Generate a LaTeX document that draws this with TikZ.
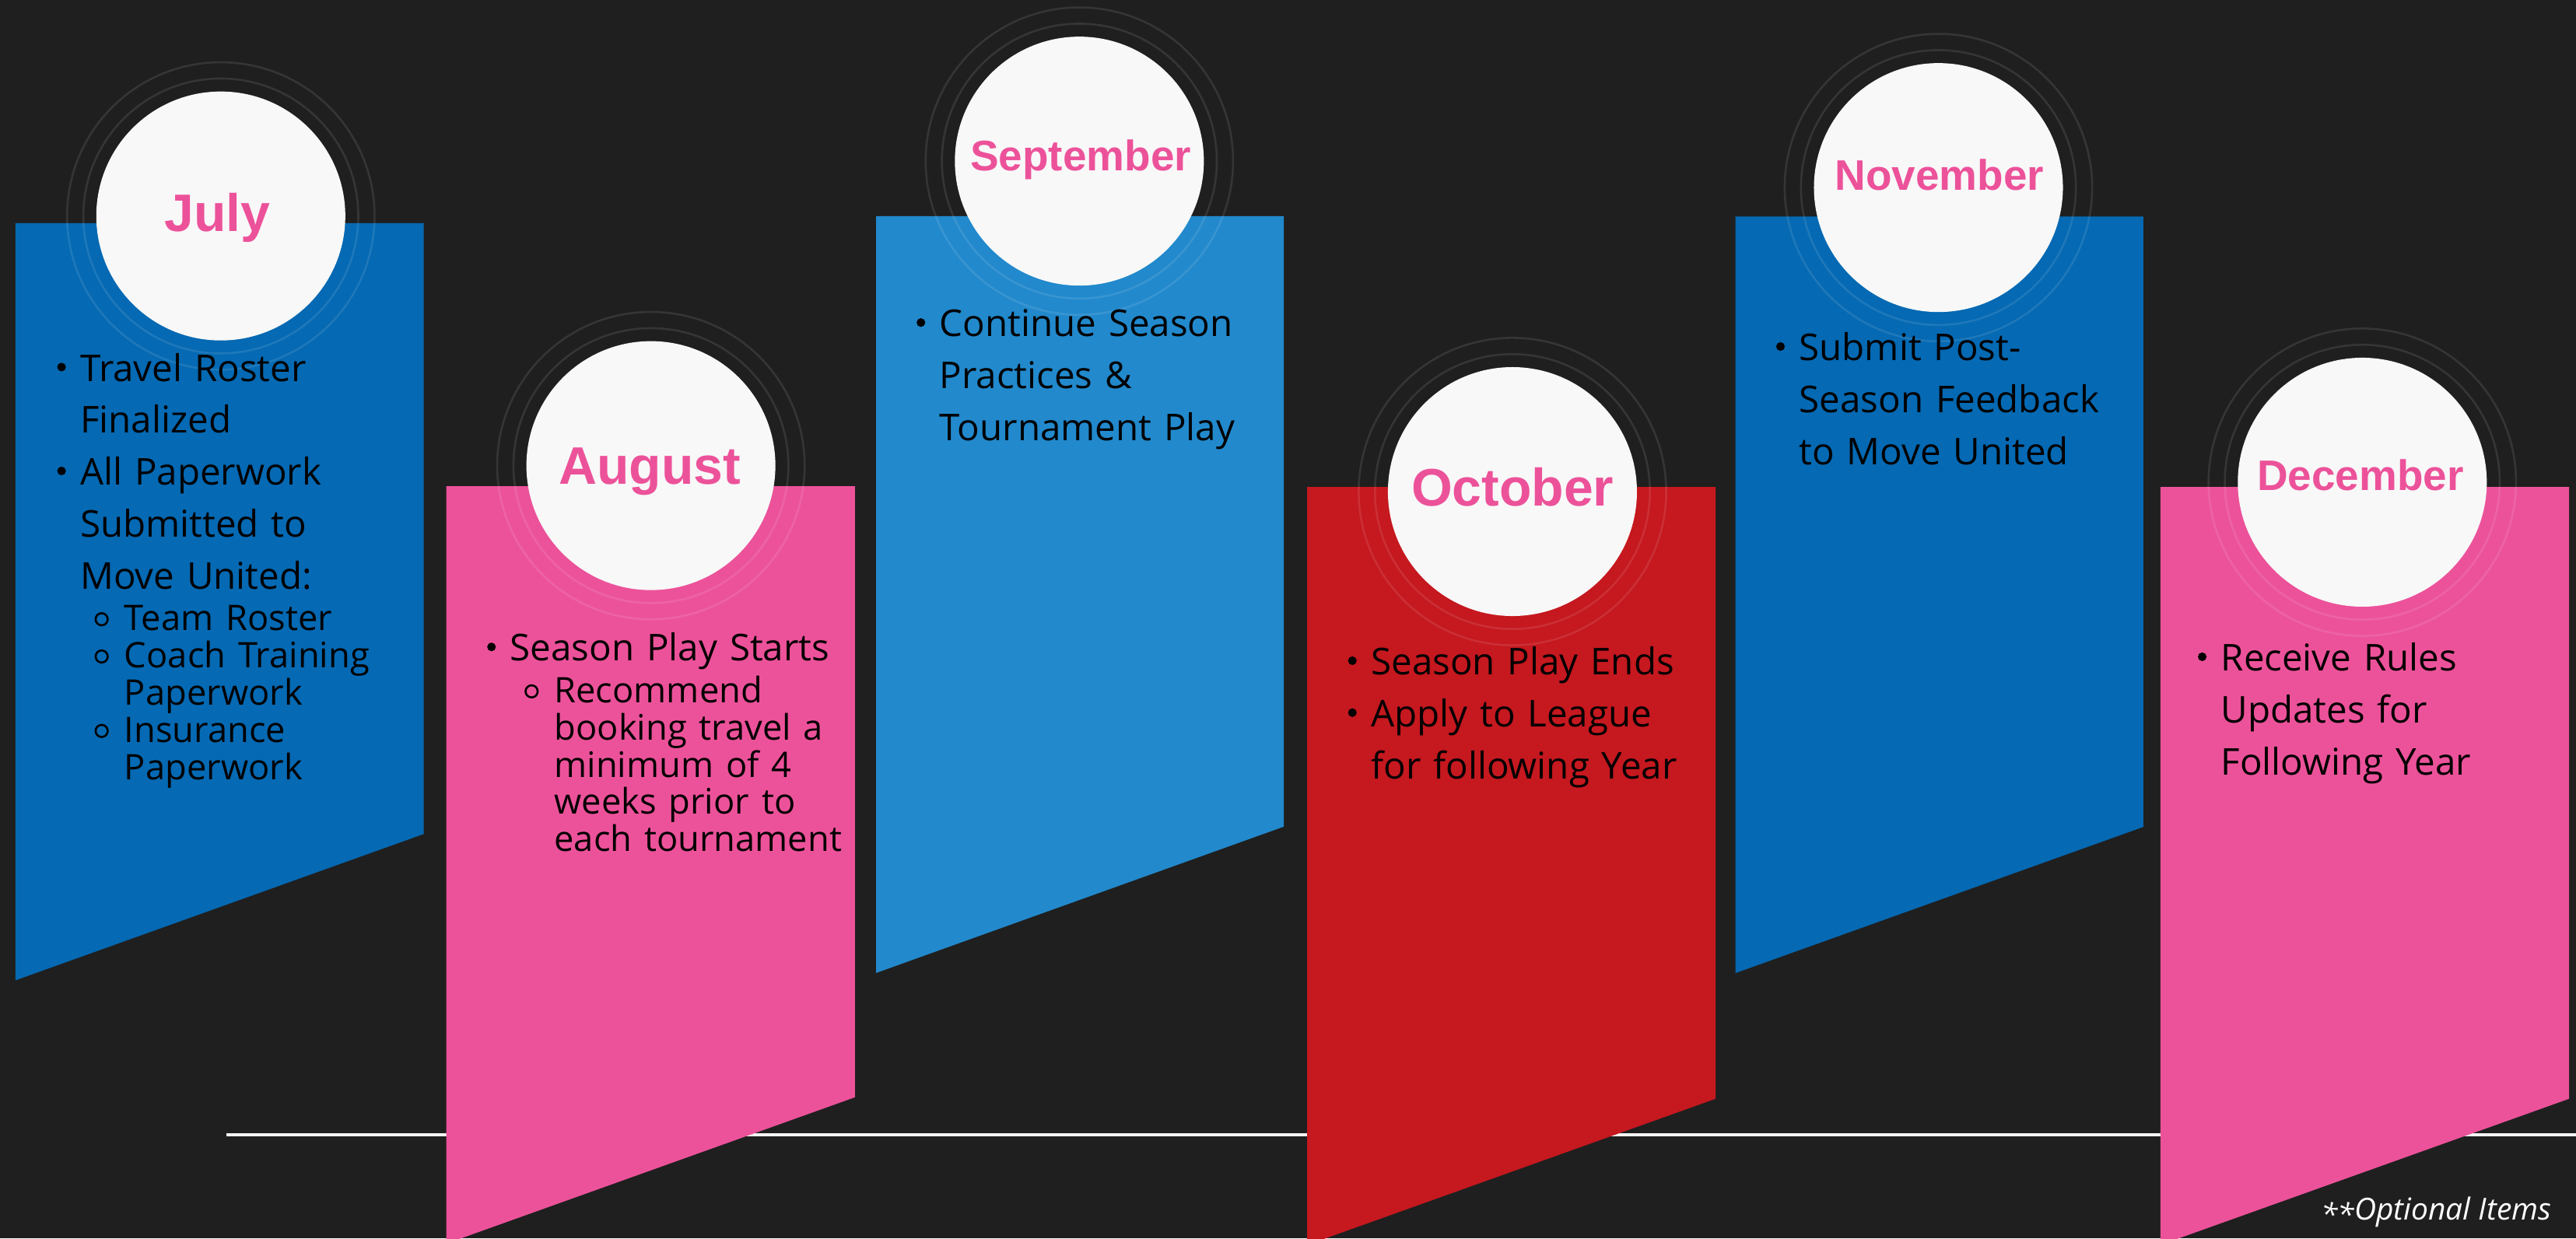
\documentclass[tikz,border=0pt]{standalone}
\usepackage{fontspec}
\setmainfont{Open Sans}
\newfontfamily\monthfont{Liberation Sans}
\usepackage{xcolor}

\definecolor{bgdark}{HTML}{1F1F1F}
\definecolor{navy}{HTML}{0569B3}
\definecolor{sky}{HTML}{2289CC}
\definecolor{crimson}{HTML}{C5181F}
\definecolor{rose}{HTML}{EC529A}
\definecolor{disc}{HTML}{F8F8F8}

%% bullets for the panel lists
\newcommand{\maindot}{\tikz[baseline=-4.9pt]\fill (0,0) circle[radius=1.5pt];}
\newcommand{\subdot}{\tikz[baseline=-3.9pt]\draw[line width=0.7pt] (0,0) circle[radius=2.1pt];}
\newcommand{\bul}[1]{{\hangindent=8.5pt\hangafter=1\baselineskip=18pt\lineskiplimit=-20pt
  \noindent\makebox[8.5pt][l]{\hspace*{0.5pt}\maindot}#1\par}}
\newcommand{\subbul}[1]{{\fontsize{12.2}{12.9}\selectfont
  \hangindent=23.8pt\hangafter=1\baselineskip=12.9pt\lineskiplimit=-20pt
  \noindent\makebox[23.8pt][l]{\hspace*{13.45pt}\subdot}#1\par}}

\begin{document}
\begin{tikzpicture}[
      x=0.02cm, y=-0.02cm,
      disc/.style={circle, fill=disc, inner sep=0pt, minimum size=3.032cm},
      ring/.style={draw=white, draw opacity=0.1, line width=0.7pt},
      month/.style={anchor=base, inner sep=0pt, text=rose},
      bigmonth/.style={month, font=\monthfont\bfseries\fontsize{18.3}{20}\selectfont},
      smallmonth/.style={month, font=\monthfont\bfseries\fontsize{14.8}{16}\selectfont},
      items/.style={anchor=base west, inner sep=0pt, text width=4.9cm, align=left,
                    text=black, font=\fontsize{12.8}{18}\selectfont},
      note/.style={anchor=base east, inner sep=0pt, text=white,
                   font=\itshape\fontsize{10.5}{12}\selectfont},
      rule/.style={draw=white!96!black, line width=1.1pt},
    ]
    \useasboundingbox (0,0) rectangle (1568,754);

    %% background and time rule
    \fill[bgdark] (0,0) rectangle (1568,754);
    \draw[rule] (138,691.1) -- (1568,691.1);

    %% month panels with slanted bottom edge
    \fill[navy]    (9.4,135.8)    -- (257.9,135.8)  -- (257.9,507.8)  -- (9.4,596.9)    -- cycle;
    \fill[rose]    (271.7,296)    -- (520.4,296)    -- (520.4,668.1)  -- (271.7,757.2)  -- cycle;
    \fill[sky]     (533.3,131.6)  -- (781.5,131.6)  -- (781.5,503.3)  -- (533.3,592.4)  -- cycle;
    \fill[crimson] (795.7,296.5)  -- (1044.3,296.5) -- (1044.3,669)   -- (795.7,758)    -- cycle;
    \fill[navy]    (1056.3,131.8) -- (1304.6,131.8) -- (1304.6,503.5) -- (1056.3,592.5) -- cycle;
    \fill[rose]    (1315,296.5)   -- (1563.8,296.5) -- (1563.8,669)   -- (1315,758)     -- cycle;

    %% month discs with faint double rings
    \node[disc] (julydisc) at (134.4,131.5) {};
    \node[disc] (augdisc)  at (396.2,283.5) {};
    \node[disc] (sepdisc)  at (657,98.1)    {};
    \node[disc] (octdisc)  at (920.6,299.3) {};
    \node[disc] (novdisc)  at (1179.9,114.2) {};
    \node[disc] (decdisc)  at (1437.9,293.6) {};

    \draw[ring] (julydisc.center) circle[radius=1.674cm] circle[radius=1.872cm];
    \draw[ring] (augdisc.center)  circle[radius=1.674cm] circle[radius=1.872cm];
    \draw[ring] (sepdisc.center)  circle[radius=1.674cm] circle[radius=1.872cm];
    \draw[ring] (octdisc.center)  circle[radius=1.674cm] circle[radius=1.872cm];
    \draw[ring] (novdisc.center)  circle[radius=1.674cm] circle[radius=1.872cm];
    \draw[ring] (decdisc.center)  circle[radius=1.674cm] circle[radius=1.872cm];

    \node[bigmonth]   (julylbl) at (132.3,140.8)  {July};
    \node[bigmonth]   (auglbl)  at (395.6,294.7)  {August};
    \node[smallmonth] (seplbl)  at (657.8,103.9)  {September};
    \node[bigmonth]   (octlbl)  at (920.7,308.1)  {October};
    \node[smallmonth] (novlbl)  at (1180.6,116)   {November};
    \node[smallmonth] (declbl)  at (1436.8,298.4) {December};

    %% panel lists
    \node[items] (julytxt) at (33.6,232.1) {%
      \bul{Travel Roster\newline Finalized}
      \bul{All Paperwork\newline Submitted to\newline Move United:}
      \vspace{1.5pt}
      \subbul{Team Roster}
      \subbul{Coach Training\newline Paperwork}
      \subbul{Insurance\newline Paperwork}};
    \node[items] (augtxt) at (295.3,402.5) {%
      \bul{Season Play Starts}
      \vspace{1.5pt}
      \subbul{Recommend\newline booking travel a\newline minimum of 4\newline weeks prior to\newline each tournament}};
    \node[items] (septxt) at (556.7,205) {%
      \bul{Continue Season\newline Practices \&\newline Tournament Play}};
    \node[items] (octtxt) at (819.3,410.9) {%
      \bul{Season Play Ends}
      \bul{Apply to League\newline for following Year}};
    \node[items] (novtxt) at (1079.9,219.6) {%
      \bul{Submit Post-\newline Season Feedback\newline to Move United}};
    \node[items] (dectxt) at (1336.6,408.5) {%
      \bul{Receive Rules\newline Updates for\newline Following Year}};

    \node[note] (optional) at (1553.4,742.7) {\raisebox{-0.35ex}{**}Optional Items};
  \end{tikzpicture}
\end{document}
